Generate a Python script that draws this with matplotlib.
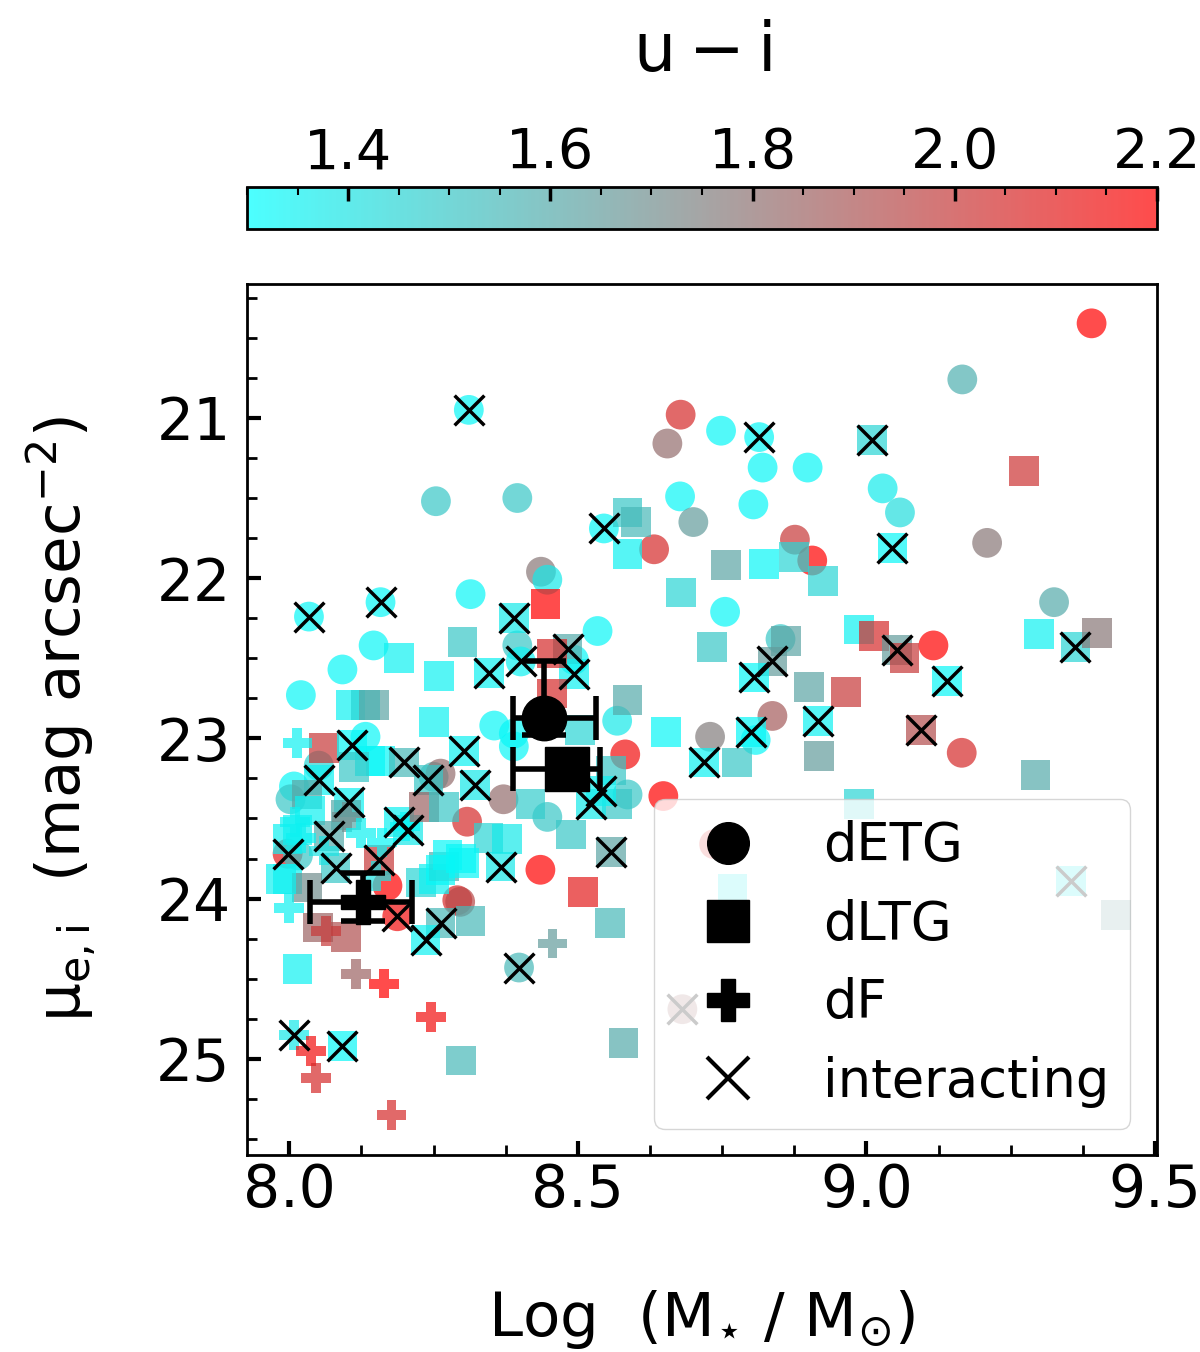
import numpy as np
import matplotlib
matplotlib.use('Agg')
import matplotlib.pyplot as plt
from matplotlib.colors import LinearSegmentedColormap
from matplotlib.lines import Line2D
from matplotlib.ticker import MultipleLocator

# dETG (circles): log M*, mu_e,i, u-i, interacting flag
etg_x = [8.311, 8.254, 8.395, 8.436, 8.447, 8.314, 8.678, 8.655, 8.748, 8.814,
         8.820, 8.898, 8.677, 8.804, 8.700, 8.545, 8.632, 8.876, 8.906, 9.390,
         9.166, 9.028, 9.058, 9.209, 8.034, 8.158, 8.395, 8.146, 8.092, 8.401,
         8.020, 8.355, 8.389, 8.389, 8.132, 8.051, 8.008, 8.002, 7.997, 8.015,
         8.170, 8.187, 8.291, 8.296, 8.398, 8.681, 8.736, 8.755, 8.851, 8.837,
         8.808, 8.729, 8.534, 8.493, 8.568, 8.582, 8.586, 8.648, 8.435, 8.447,
         9.116, 9.165, 9.325, 8.250, 8.262, 8.371, 8.308]
etg_y = [20.95, 21.52, 21.50, 21.96, 22.01, 22.10, 20.98, 21.16, 21.08, 21.12,
         21.31, 21.31, 21.49, 21.54, 21.65, 21.69, 21.82, 21.76, 21.89, 20.41,
         20.76, 21.44, 21.59, 21.78, 22.24, 22.15, 22.42, 22.42, 22.57, 22.52,
         22.73, 22.92, 22.97, 23.05, 22.99, 23.17, 23.30, 23.38, 23.72, 23.73,
         23.92, 24.11, 24.01, 24.02, 24.43, 24.69, 23.66, 22.21, 22.38, 22.86,
         23.01, 22.99, 22.33, 22.51, 22.89, 23.10, 23.35, 23.36, 23.82, 23.49,
         22.42, 23.09, 22.15, 23.24, 23.22, 23.38, 23.52]
etg_c = [1.33, 1.50, 1.50, 1.78, 1.38, 1.33, 2.05, 1.82, 1.33, 1.33,
         1.33, 1.33, 1.33, 1.33, 1.65, 1.33, 2.05, 2.00, 2.20, 2.20,
         1.58, 1.37, 1.42, 1.78, 1.33, 1.33, 1.50, 1.33, 1.33, 1.35,
         1.33, 1.33, 1.33, 1.33, 1.33, 1.45, 1.33, 1.50, 2.10, 1.50,
         2.20, 2.15, 2.05, 1.95, 1.55, 1.85, 2.10, 1.33, 1.50, 1.88,
         1.33, 1.76, 1.33, 1.33, 1.38, 2.15, 1.50, 2.20, 2.20, 1.50,
         2.20, 2.05, 1.60, 1.55, 1.82, 1.82, 2.05]
etg_int = [1, 0, 0, 0, 0, 0, 0, 0, 0, 1,
           0, 0, 0, 0, 0, 1, 0, 0, 0, 0,
           0, 0, 0, 0, 1, 1, 0, 0, 0, 1,
           0, 0, 0, 0, 0, 0, 0, 0, 1, 0,
           0, 1, 0, 0, 1, 1, 0, 0, 0, 0,
           0, 0, 0, 0, 0, 0, 0, 0, 0, 0,
           0, 0, 0, 0, 0, 0, 0]

# dLTG (squares)
ltg_x = [8.586, 8.600, 8.586, 8.756, 8.823, 8.875, 8.924, 8.678, 9.010, 9.045,
         9.273, 8.444, 8.389, 8.190, 8.300, 8.259, 8.346, 8.106, 8.132, 8.147,
         8.250, 8.060, 8.051, 8.109, 8.140, 8.158, 8.112, 8.031, 8.036, 8.103,
         8.098, 8.014, 7.997, 8.069, 8.190, 8.205, 8.080, 7.997, 8.155, 8.031,
         8.228, 8.250, 8.268, 8.049, 8.098, 8.262, 8.314, 8.236, 8.014, 8.092,
         8.297, 8.509, 8.555, 8.579, 8.768, 9.355, 9.432, 8.732, 8.860, 8.837,
         8.805, 8.900, 8.964, 8.916, 8.800, 8.719, 8.776, 8.918, 8.652, 8.586,
         8.482, 8.493, 8.557, 8.568, 8.540, 8.522, 8.488, 8.557, 8.987, 9.013,
         9.053, 9.066, 9.139, 9.094, 9.293, 9.299, 9.362, 9.399, 8.987, 8.455,
         8.455, 8.504, 8.302, 8.322, 8.241, 8.418, 8.345, 8.377, 8.366, 8.302,
         8.262, 8.199, 8.233, 8.268, 8.274, 8.297, 7.985]
ltg_y = [21.59, 21.65, 21.85, 21.92, 21.91, 21.87, 22.02, 22.09, 21.14, 21.81,
         21.33, 22.16, 22.25, 22.50, 22.40, 22.61, 22.59, 22.79, 22.79, 22.79,
         22.90, 23.06, 23.26, 23.04, 23.14, 23.14, 23.18, 23.35, 23.45, 23.40,
         23.48, 23.57, 23.63, 23.61, 23.52, 23.57, 23.81, 23.88, 23.76, 23.93,
         23.90, 23.88, 23.80, 24.18, 24.24, 24.15, 24.14, 24.26, 24.44, 24.92,
         25.01, 23.96, 24.15, 24.90, 23.94, 23.89, 24.10, 22.43, 22.39, 22.52,
         22.62, 22.68, 22.71, 22.89, 22.96, 23.15, 23.15, 23.11, 22.96, 22.76,
         22.44, 22.60, 23.20, 23.41, 23.33, 23.41, 23.60, 23.71, 22.32, 22.36,
         22.45, 22.50, 22.64, 22.95, 23.23, 22.35, 22.43, 22.34, 23.41, 22.47,
         22.72, 22.95, 23.08, 23.29, 23.26, 23.41, 23.62, 23.63, 23.80, 23.78,
         23.82, 23.15, 23.43, 23.43, 23.73, 23.75, 23.88]
ltg_c = [1.50, 1.55, 1.35, 1.62, 1.33, 1.45, 1.45, 1.45, 1.45, 1.33,
         2.02, 2.20, 1.38, 1.35, 1.50, 1.35, 1.35, 1.35, 1.45, 1.62,
         1.35, 2.00, 1.35, 1.33, 1.33, 1.33, 1.50, 1.62, 1.35, 1.35,
         1.60, 1.35, 1.35, 1.60, 1.35, 1.38, 1.50, 1.35, 2.00, 1.70,
         1.45, 1.35, 1.60, 1.85, 1.92, 1.55, 1.55, 1.35, 1.35, 1.33,
         1.55, 2.10, 1.55, 1.60, 1.35, 1.35, 1.65, 1.50, 1.62, 1.65,
         1.33, 1.62, 2.00, 1.35, 1.33, 1.35, 1.50, 1.65, 1.33, 1.60,
         1.60, 1.35, 1.50, 1.50, 1.35, 1.38, 1.50, 1.62, 1.35, 2.05,
         1.65, 2.00, 1.33, 1.93, 1.60, 1.35, 1.45, 1.78, 1.45, 2.05,
         2.05, 1.45, 1.35, 1.38, 1.50, 1.48, 1.45, 1.38, 1.38, 1.33,
         1.33, 1.55, 1.85, 1.50, 1.33, 1.33, 1.35]
ltg_int = [0, 0, 0, 0, 0, 0, 0, 0, 1, 1,
           0, 0, 1, 0, 0, 0, 1, 0, 0, 0,
           0, 0, 1, 1, 0, 0, 0, 0, 0, 1,
           0, 0, 0, 1, 1, 1, 1, 0, 1, 0,
           0, 0, 0, 0, 0, 1, 0, 1, 0, 1,
           0, 0, 0, 0, 0, 1, 0, 0, 0, 1,
           1, 0, 0, 1, 1, 1, 0, 0, 0, 0,
           1, 1, 0, 0, 1, 1, 0, 1, 0, 0,
           1, 0, 1, 1, 0, 0, 1, 0, 0, 0,
           0, 0, 1, 1, 1, 0, 0, 0, 1, 0,
           0, 1, 0, 0, 0, 0, 0]

# dF (plus)
df_x = [8.014, 8.100, 8.124, 8.000, 8.010, 8.063, 8.456, 8.115, 8.164, 8.245,
        8.008, 8.037, 8.046, 8.177, 8.160, 8.200, 8.150, 8.020, 8.060]
df_y = [23.03, 23.49, 23.59, 24.06, 23.52, 24.20, 24.28, 24.47, 24.53, 24.74,
        24.85, 24.95, 25.12, 25.35, 23.65, 23.55, 23.86, 23.62, 23.70]
df_c = [1.35, 1.70, 1.35, 1.35, 1.35, 2.00, 1.65, 1.85, 2.20, 2.15,
        1.38, 2.15, 2.05, 2.05, 1.33, 1.33, 1.40, 1.35, 1.40]
df_int = [0, 0, 0, 0, 0, 0, 0, 0, 0, 0,
          1, 0, 0, 0, 0, 0, 0, 0, 0]

# median values with asymmetric errors
med_x = [8.442, 8.481, 8.127]
med_y = [22.87, 23.19, 24.02]
med_xlo = [0.054, 0.094, 0.092]
med_xhi = [0.090, 0.058, 0.085]
med_ylo = [0.35, 0.08, 0.18]
med_yhi = [0.11, 0.08, 0.12]
med_mk = ['o', 's', 'P']

cmap = LinearSegmentedColormap.from_list('cgr', ['cyan', 'gray', 'red'])
vmin, vmax = 1.3, 2.2

fig = plt.figure(figsize=(12, 13.52), dpi=100)
ax = fig.add_axes([0.206, 0.1457, 0.758, 0.6443])

groups = [(etg_x, etg_y, etg_c, etg_int, 'o'),
          (ltg_x, ltg_y, ltg_c, ltg_int, 's'),
          (df_x, df_y, df_c, df_int, 'P')]
for gx, gy, gc, gi, mk in groups:
    gx = np.array(gx); gy = np.array(gy); gi = np.array(gi, bool)
    sc = ax.scatter(gx, gy, c=gc, cmap=cmap, vmin=vmin, vmax=vmax, marker=mk,
                    s=460, alpha=0.7, edgecolors='none', zorder=2)
    ax.scatter(gx[gi], gy[gi], marker='x', c='k', s=460, linewidths=2.5, zorder=3)

for i in range(3):
    ax.errorbar(med_x[i], med_y[i],
                xerr=[[med_xlo[i]], [med_xhi[i]]], yerr=[[med_ylo[i]], [med_yhi[i]]],
                fmt=med_mk[i], color='k', ms=32, elinewidth=4, capsize=16, capthick=4,
                zorder=5)

ax.set_xlim(7.927, 9.503)
ax.set_ylim(25.6, 20.164)
ax.xaxis.set_major_locator(MultipleLocator(0.5))
ax.xaxis.set_minor_locator(MultipleLocator(0.125))
ax.yaxis.set_major_locator(MultipleLocator(1))
ax.yaxis.set_minor_locator(MultipleLocator(0.25))
ax.tick_params(which='both', direction='in', top=False, right=False)
ax.tick_params(which='major', length=10, width=3, labelsize=42, pad=12)
ax.tick_params(axis='x', which='major', pad=5)
ax.tick_params(which='minor', length=7, width=2)
for sp in ax.spines.values():
    sp.set_linewidth(2)

ax.set_xlabel(r'$\rm Log\ \ (M_{\star}\ /\ M_{\odot})$', fontsize=44, labelpad=50)
ax.set_ylabel(r'$\rm \mu_{e,i}\ \ (mag\ arcsec^{-2})$', fontsize=44, labelpad=42)

handles = [Line2D([], [], ls='none', marker='o', color='k', ms=30),
           Line2D([], [], ls='none', marker='s', color='k', ms=30),
           Line2D([], [], ls='none', marker='P', color='k', ms=30),
           Line2D([], [], ls='none', marker='x', color='k', ms=30, mew=3)]
ax.legend(handles, ['dETG', 'dLTG', 'dF', 'interacting'], loc='lower right', fontsize=38)

cax = fig.add_axes([0.206, 0.8306, 0.758, 0.031])
cb = fig.colorbar(sc, cax=cax, orientation='horizontal')
cb.set_ticks([1.4, 1.6, 1.8, 2.0, 2.2])
cax.xaxis.set_minor_locator(MultipleLocator(0.05))
cax.xaxis.set_ticks_position('top')
cax.xaxis.set_label_position('top')
cax.tick_params(which='both', direction='in', top=True, bottom=False)
cax.tick_params(which='major', length=10, width=2.5, labelsize=40, pad=5)
cax.tick_params(which='minor', length=6, width=1.5)
cb.outline.set_linewidth(2)
cb.set_label(r'$\rm u-i$', fontsize=48, labelpad=40)

fig.savefig('out.png', dpi=100)
